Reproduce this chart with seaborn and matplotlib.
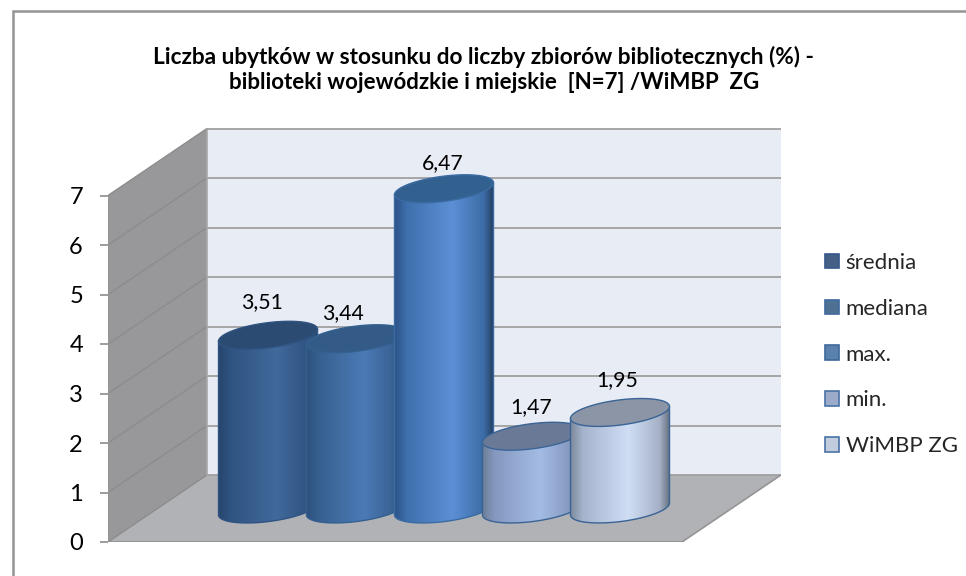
import numpy as np
import pandas as pd
import matplotlib
matplotlib.use('Agg')
import matplotlib.pyplot as plt
from matplotlib.colors import LinearSegmentedColormap
from matplotlib.lines import Line2D
from matplotlib.patches import Polygon
import seaborn as sns

# Chart data
kategorie = ['średnia', 'mediana', 'max.', 'min.', 'WiMBP ZG']
wartosci = [3.51, 3.44, 6.47, 1.47, 1.95]
podzialka = [0, 1, 2, 3, 4, 5, 6, 7]
tytul_1 = 'Liczba ubytków w stosunku do liczby zbiorów bibliotecznych (%) -'
tytul_2 = 'biblioteki wojewódzkie i miejskie  [N=7] /WiMBP  ZG'

# Bar styling
kolory_legendy = ['#3b5f8e', '#41709f', '#4d80bd', '#94a9d2', '#bccbe4']
krawedzie_legendy = ['#35578a', '#3f6a9c', '#3f6a9c', '#4a72a4', '#4a72a4']
gradienty = [
    ['#27466e', '#2f5482', '#41699a', '#2f5482', '#264468'],
    ['#2d517f', '#37608f', '#4b7ab6', '#385f90', '#2b4d78'],
    ['#2c5488', '#3f70ad', '#5c90d6', '#3c6ca6', '#243d5e'],
    ['#6f8099', '#8599c0', '#a4bce4', '#8497bd', '#66768f'],
    ['#7f8c9e', '#a5b3cc', '#cfdef5', '#a5b0c6', '#646e7c'],
]
kolory_wieczek = ['#2c4b72', '#345b87', '#32608f', '#6a7a96', '#8c95a6']
kolory_obrysu = ['#2f5482', '#34608f', '#3a6ba3', '#3a6496', '#3a6496']
przesun_x = [-6, -13, -1, -1, -3]
przesun_y = [33, 26, 26, 29, 32]

W, H = 966, 576
PX_X = 88.0
PX_Y = 49.5
glab_x = 99 / PX_X
glab_y = 67 / PX_Y
baza = 33 / PX_Y
a = 0.5625
b = 12.6 / PX_Y
sk = 6 / PX_Y

sns.set_theme(style='white')
plt.rcParams['font.family'] = ['Lato', 'DejaVu Sans']

fig = plt.figure(figsize=(W / 100, H / 100), dpi=100)
ax = fig.add_axes([108 / W, (H - 542) / H, (781 - 108) / W, (542 - 128) / H])

df = pd.DataFrame({'kategoria': kategorie, 'wartosc': wartosci})
sns.barplot(data=df, x='kategoria', y='wartosc', hue='kategoria', hue_order=kategorie,
            palette=kolory_legendy, width=99 / PX_X, dodge=False, legend=True, ax=ax)

x0 = (108 - 268) / PX_X
x1 = (682 - 268) / PX_X
y_max = podzialka[-1]

# walls and floor
ax.add_patch(Polygon([(x0 + glab_x, glab_y), (x1 + glab_x, glab_y), (x1 + glab_x, glab_y + y_max),
                      (x0 + glab_x, glab_y + y_max)], fc='#e8ecf5', ec='none', zorder=0.5))
ax.add_patch(Polygon([(x0, 0), (x0 + glab_x, glab_y), (x0 + glab_x, glab_y + y_max), (x0, y_max)],
                     fc='#98989b', ec='none', zorder=0.6))
ax.add_patch(Polygon([(x0, 0), (x1, 0), (x1 + glab_x, glab_y), (x0 + glab_x, glab_y)],
                     fc='#b0b2b6', ec='none', zorder=0.7))
for v in podzialka:
    ax.plot([x0 + glab_x, x1 + glab_x], [v + glab_y, v + glab_y], color='#a0a0a0', lw=1.3, zorder=1,
            solid_capstyle='butt')
    ax.plot([x0, x0 + glab_x], [v, v + glab_y], color='#8c8c8c', lw=1.0, zorder=1)
ax.plot([x0 + glab_x, x0 + glab_x], [glab_y, glab_y + y_max], color='#a8a8a8', lw=1.2, zorder=1)
ax.plot([x1, x1 + glab_x], [0, glab_y], color='#959595', lw=1.2, zorder=1)
ax.plot([x0, x1], [0, 0], color='#8c8c8c', lw=1.8, zorder=1)
ax.plot([x0, x0], [0, y_max], color='#959595', lw=1.2, zorder=1)

# cylinders, the seaborn bars give position and height
for i, kontener in enumerate(ax.containers):
    p = kontener[0]
    cx = p.get_x() + p.get_width() / 2
    wys = p.get_height()
    p.set_y(baza)

    t_dol = np.linspace(np.pi, 2 * np.pi, 60)
    t_gora = np.linspace(0, 2 * np.pi, 120)
    dol_x = cx + a * np.cos(t_dol)
    dol_y = baza + b * np.sin(t_dol) + sk * np.cos(t_dol)
    top = baza + wys
    gora_x = cx + a * np.cos(t_gora)
    gora_y = top + b * np.sin(t_gora) + sk * np.cos(t_gora)

    obrys = np.vstack([np.column_stack([dol_x, dol_y]),
                       [[cx + a, top + sk], [cx - a, top - sk]]])
    z = 2 + i * 0.1
    korpus = Polygon(obrys, closed=True, transform=ax.transData, fc='none',
                     ec=kolory_obrysu[i], lw=1.0, zorder=z + 0.02)
    ax.add_patch(korpus)
    p.set_zorder(z)
    p.set_clip_path(korpus)

    cmap = LinearSegmentedColormap.from_list('g%d' % i, list(zip([0, 0.12, 0.58, 0.9, 1], gradienty[i])))
    im = ax.imshow(np.linspace(0, 1, 256)[None, :], cmap=cmap, aspect='auto', zorder=z + 0.01,
                   extent=[cx - a, cx + a, baza - 0.5, top + 0.5])
    im.set_clip_path(korpus)

    ax.add_patch(Polygon(np.column_stack([gora_x, gora_y]), fc=kolory_wieczek[i],
                         ec=kolory_obrysu[i], lw=1.0, zorder=z + 0.03))

    ax.text(cx + przesun_x[i] / PX_X, top + przesun_y[i] / PX_Y, f'{wartosci[i]:.2f}'.replace('.', ','),
            ha='center', va='center', fontsize=15.3, color='black', zorder=5)

ax.set_xlim((108 - 268) / PX_X, (781 - 268) / PX_X)
ax.set_ylim(0, (542 - 128) / PX_Y)
ax.set_xlabel('')
ax.set_ylabel('')
ax.set_yticks(podzialka)
ax.tick_params(axis='y', left=True, length=6, width=1.3, color='#959595', pad=12, labelsize=17, labelcolor='black')
ax.tick_params(axis='x', bottom=False, labelbottom=False)
ax.patch.set_visible(False)
sns.despine(ax=ax, left=True, bottom=True)

# legend
sns.move_legend(ax, 'upper left', bbox_to_anchor=(825 / W, (H - 253) / H), bbox_transform=fig.transFigure,
                frameon=False, title=None, fontsize=16, labelspacing=1.16, handlelength=0.63,
                handleheight=0.63, handletextpad=0.3, borderpad=0, borderaxespad=0)
for uchwyt, kol in zip(ax.get_legend().get_patches(), krawedzie_legendy):
    uchwyt.set_edgecolor(kol)
    uchwyt.set_linewidth(1.2)

# title and frame, the frame only shows on the top and left side
fig.text(483 / W, (H - 64) / H, tytul_1, ha='center', va='baseline', fontsize=16.3, fontweight='bold', color='black')
fig.text(494.5 / W, (H - 89) / H, tytul_2, ha='center', va='baseline', fontsize=16, fontweight='bold', color='black')
fig.add_artist(Line2D([13 / W, 13 / W, 1], [0, (H - 11) / H, (H - 11) / H], transform=fig.transFigure,
                      color='#949494', lw=1.8, solid_joinstyle='miter'))

plt.savefig('out.png', dpi=100)
